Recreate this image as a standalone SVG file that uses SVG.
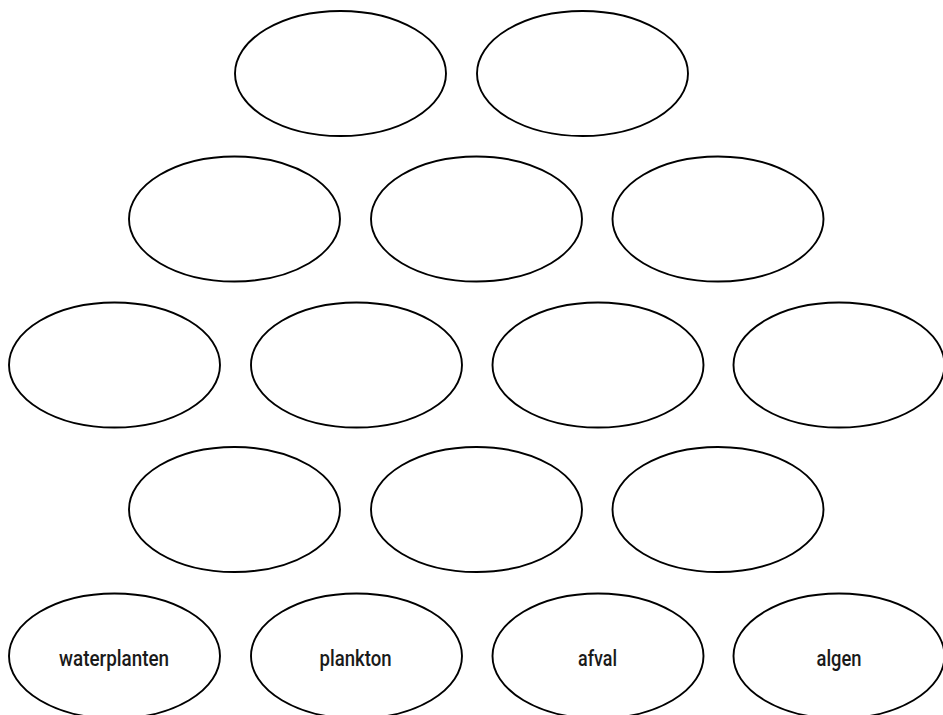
<svg xmlns="http://www.w3.org/2000/svg" width="943" height="715" viewBox="0 0 943 715">
<style>
.n ellipse{fill:#fff;stroke:#000;stroke-width:1.9}
.n text{font-family:Roboto,"Liberation Sans",sans-serif;font-weight:500;font-size:21.5px;fill:#1a1a1a;text-anchor:middle}
</style>
<rect width="943" height="715" fill="#fff"/>
<g id="connectors"></g>
<g id="r1c1" class="n"><ellipse cx="340.5" cy="73.5" rx="105.5" ry="62.5"/></g>
<g id="r1c2" class="n"><ellipse cx="582.5" cy="73.5" rx="105.5" ry="62.5"/></g>
<g id="r2c1" class="n"><ellipse cx="234.5" cy="219" rx="105.5" ry="62.5"/></g>
<g id="r2c2" class="n"><ellipse cx="476.5" cy="219" rx="105.5" ry="62.5"/></g>
<g id="r2c3" class="n"><ellipse cx="718" cy="219" rx="105.5" ry="62.5"/></g>
<g id="r3c1" class="n"><ellipse cx="114.5" cy="365" rx="105.5" ry="62.5"/></g>
<g id="r3c2" class="n"><ellipse cx="356.5" cy="365" rx="105.5" ry="62.5"/></g>
<g id="r3c3" class="n"><ellipse cx="598" cy="365" rx="105.5" ry="62.5"/></g>
<g id="r3c4" class="n"><ellipse cx="839" cy="365" rx="105.5" ry="62.5"/></g>
<g id="r4c1" class="n"><ellipse cx="234.5" cy="509.5" rx="105.5" ry="62.5"/></g>
<g id="r4c2" class="n"><ellipse cx="476.5" cy="509.5" rx="105.5" ry="62.5"/></g>
<g id="r4c3" class="n"><ellipse cx="718" cy="509.5" rx="105.5" ry="62.5"/></g>
<g id="waterplanten" class="n"><ellipse cx="114.5" cy="656" rx="105.5" ry="62.5"/><text x="114" y="665.5" textLength="110" lengthAdjust="spacingAndGlyphs">waterplanten</text></g>
<g id="plankton" class="n"><ellipse cx="356.5" cy="656" rx="105.5" ry="62.5"/><text x="355.5" y="665.5" textLength="72" lengthAdjust="spacingAndGlyphs">plankton</text></g>
<g id="afval" class="n"><ellipse cx="598" cy="656" rx="105.5" ry="62.5"/><text x="597.5" y="665.5" textLength="39" lengthAdjust="spacingAndGlyphs">afval</text></g>
<g id="algen" class="n"><ellipse cx="839" cy="656" rx="105.5" ry="62.5"/><text x="839" y="665.5" textLength="45" lengthAdjust="spacingAndGlyphs">algen</text></g>
</svg>
